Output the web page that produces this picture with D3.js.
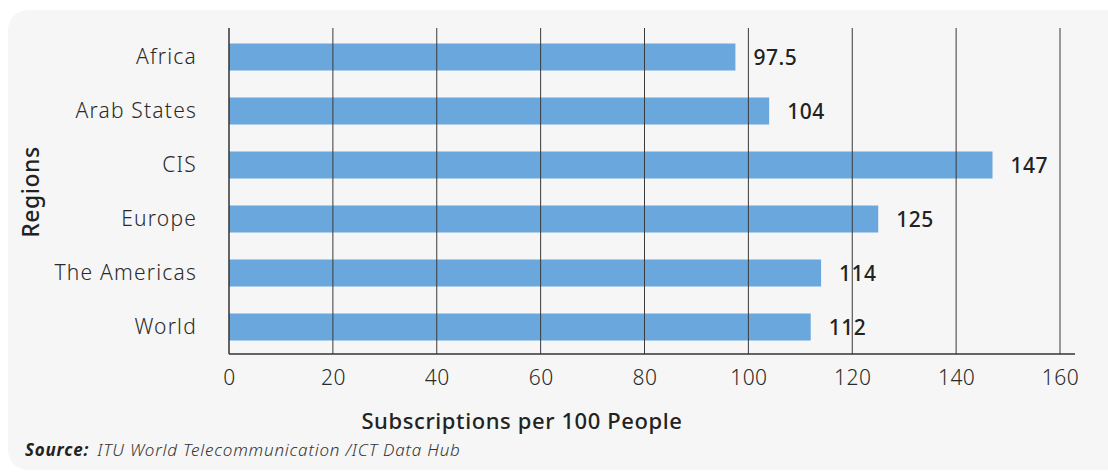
<!DOCTYPE html>
<html>
<head>
<meta charset="utf-8">
<script src="https://cdn.jsdelivr.net/npm/d3@7"></script>
<style>
  body { margin: 0; background: #ffffff; }
  text { font-family: "Noto Sans", Lato, sans-serif; }
</style>
</head>
<body>
<svg id="chart"></svg>
<script>
// chart data
const regions = ["Africa", "Arab States", "CIS", "Europe", "The Americas", "World"];
const subscriptions = [97.5, 104, 147, 125, 114, 112];
const valueLabels = ["97.5", "104", "147", "125", "114", "112"];
const xTicks = [0, 20, 40, 60, 80, 100, 120, 140, 160];

const width = 1108;
const height = 472;
const svg = d3.select("#chart")
  .attr("width", width)
  .attr("height", height);

// light grey panel with rounded corners
svg.append("rect")
  .attr("x", 8)
  .attr("y", 10)
  .attr("width", width + 20)
  .attr("height", height - 12)
  .attr("rx", 20)
  .attr("fill", "#f6f6f6");

const margin = { left: 229, right: 1060, top: 30, bottom: 354 };

const x = d3.scaleLinear()
  .domain([0, 160])
  .range([margin.left, margin.right]);

const y = d3.scaleBand()
  .domain(regions)
  .range([margin.top, margin.bottom])
  .paddingInner(0.5)
  .paddingOuter(0.25);

// bars
svg.selectAll(".bar")
  .data(regions)
  .enter()
  .append("rect")
  .attr("class", "bar")
  .attr("x", x(0))
  .attr("y", d => y(d))
  .attr("width", (d, i) => x(subscriptions[i]) - x(0))
  .attr("height", y.bandwidth())
  .attr("fill", "#69a7dd");

// vertical grid lines, drawn over the bars
svg.selectAll(".grid")
  .data(xTicks.slice(1))
  .enter()
  .append("line")
  .attr("class", "grid")
  .attr("x1", d => x(d))
  .attr("x2", d => x(d))
  .attr("y1", margin.top - 2)
  .attr("y2", margin.bottom)
  .attr("stroke", "#3a3a3a")
  .attr("stroke-width", 1);

// y axis line
svg.append("line")
  .attr("x1", x(0))
  .attr("x2", x(0))
  .attr("y1", margin.top - 2)
  .attr("y2", margin.bottom)
  .attr("stroke", "#333")
  .attr("stroke-width", 1.5);

// x axis line
svg.append("line")
  .attr("x1", x(0))
  .attr("x2", 1075)
  .attr("y1", margin.bottom)
  .attr("y2", margin.bottom)
  .attr("stroke", "#333")
  .attr("stroke-width", 1.5);

// x tick labels
const xAxis = svg.append("g")
  .attr("transform", `translate(0, ${margin.bottom})`)
  .call(d3.axisBottom(x).tickValues(xTicks).tickSize(0).tickPadding(16));
xAxis.select(".domain").remove();
xAxis.selectAll("text")
  .attr("font-size", 21)
  .attr("font-weight", 300)
  .attr("letter-spacing", 0.5)
  .attr("fill", "#2a2a2a")
  .style("font-family", "'Noto Sans', Lato, sans-serif");

// category labels
const yAxis = svg.append("g")
  .attr("transform", `translate(${x(0)}, 0)`)
  .call(d3.axisLeft(y).tickSize(0).tickPadding(32));
yAxis.select(".domain").remove();
yAxis.selectAll("text")
  .attr("font-size", 21)
  .attr("font-weight", 300)
  .attr("letter-spacing", 1.2)
  .attr("fill", "#2a2a2a")
  .style("font-family", "'Noto Sans', Lato, sans-serif");

// value labels at bar ends
svg.selectAll(".value")
  .data(regions)
  .enter()
  .append("text")
  .attr("class", "value")
  .attr("x", (d, i) => x(subscriptions[i]) + 18)
  .attr("y", d => y(d) + y.bandwidth() / 2)
  .attr("dy", "0.36em")
  .attr("font-size", 21)
  .attr("font-weight", 500)
  .attr("letter-spacing", 0.5)
  .attr("fill", "#222")
  .text((d, i) => valueLabels[i]);

// axis titles
svg.append("text")
  .attr("x", 522)
  .attr("y", 429)
  .attr("text-anchor", "middle")
  .attr("font-size", 22)
  .attr("font-weight", 500)
  .attr("letter-spacing", 0.6)
  .attr("fill", "#222")
  .text("Subscriptions per 100 People");

svg.append("text")
  .attr("transform", "translate(39, 192) rotate(-90)")
  .attr("text-anchor", "middle")
  .attr("font-size", 23)
  .attr("font-weight", 500)
  .attr("letter-spacing", 0.5)
  .attr("fill", "#222")
  .text("Regions");

// source note
const source = svg.append("text")
  .attr("x", 25)
  .attr("y", 456)
  .attr("font-size", 17)
  .attr("font-style", "italic")
  .attr("letter-spacing", 0.8)
  .attr("fill", "#333");
source.append("tspan")
  .attr("font-weight", 700)
  .attr("fill", "#222")
  .text("Source:");
source.append("tspan")
  .attr("font-weight", 300)
  .attr("dx", 8)
  .text("ITU World Telecommunication /ICT Data Hub");
</script>
</body>
</html>
